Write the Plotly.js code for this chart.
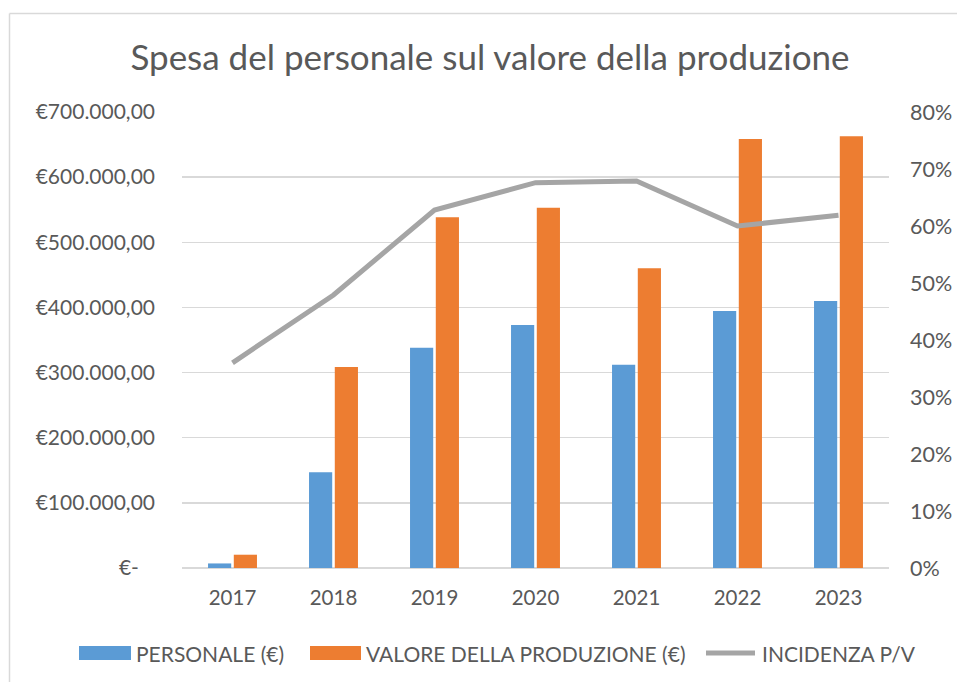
<!DOCTYPE html>
<html>
<head>
<meta charset="utf-8">
<script src="https://cdn.plot.ly/plotly-3.0.1.min.js"></script>
<style>html,body{margin:0;padding:0;background:#fff;}#chart{width:957px;height:682px;}</style>
</head>
<body>
<div id="chart"></div>
<script>
const years = ["2017", "2018", "2019", "2020", "2021", "2022", "2023"];
const personale = [7000, 147000, 338000, 373000, 312000, 394500, 410000];
const valoreProduzione = [20400, 308700, 538300, 553000, 460000, 658400, 662600];
const incidenza = [0.360, 0.479, 0.628, 0.676, 0.679, 0.600, 0.619];
const leftTickVals = [0, 100000, 200000, 300000, 400000, 500000, 600000, 700000];
const leftTickText = ["€-\u00a0\u00a0\u00a0", "€100.000,00", "€200.000,00", "€300.000,00", "€400.000,00", "€500.000,00", "€600.000,00", "€700.000,00"];
const rightTickVals = [0, 0.1, 0.2, 0.3, 0.4, 0.5, 0.6, 0.7, 0.8];
const rightTickText = ["0%", "10%", "20%", "30%", "40%", "50%", "60%", "70%", "80%"];
const seriesNames = ["PERSONALE (€)", "VALORE DELLA PRODUZIONE (€)", "INCIDENZA P/V"];
const seriesColors = ["#5b9bd5", "#ed7d31", "#a5a5a5"];

const FONT = "Lato, 'Open Sans', sans-serif";
const TXT = "#595959";

// plot-area geometry (pixels)
const W = 957, H = 682, ML = 182, MR = 68, MT = 112, MB = 114;
const PW = W - ML - MR, PH = H - MT - MB;
const px = v => (v - ML) / PW;
const py = v => (H - MB - v) / PH;

const traces = [
  {type: "bar", name: seriesNames[0], x: years, y: personale, marker: {color: seriesColors[0]}, yaxis: "y"},
  {type: "bar", name: seriesNames[1], x: years, y: valoreProduzione, marker: {color: seriesColors[1]}, yaxis: "y"},
  {type: "scatter", mode: "lines", name: seriesNames[2], x: years, y: incidenza, yaxis: "y2",
   line: {color: seriesColors[2], width: 5}}
];

// custom legend (swatches + labels) placed under the plot like the reference
const legendY = 653;
const legendItems = [
  {sx0: 79, sx1: 131, tx: 134, kind: "rect"},
  {sx0: 310, sx1: 361, tx: 364, kind: "rect"},
  {sx0: 704, sx1: 757, tx: 760, kind: "line"}
];
const shapes = [
  {type: "line", xref: "paper", yref: "paper", x0: px(9.5), x1: 1.2, y0: py(13.5), y1: py(13.5),
   line: {color: "#d9d9d9", width: 1.5}},
  {type: "line", xref: "paper", yref: "paper", x0: px(9.5), x1: px(9.5), y0: py(13.5), y1: -0.4,
   line: {color: "#d9d9d9", width: 1.5}}
];
const annotations = [];
legendItems.forEach((it, i) => {
  if (it.kind === "rect") {
    shapes.push({type: "rect", xref: "paper", yref: "paper", x0: px(it.sx0), x1: px(it.sx1),
      y0: py(legendY - 7), y1: py(legendY + 7), fillcolor: seriesColors[i], line: {width: 0}});
  } else {
    shapes.push({type: "line", xref: "paper", yref: "paper", x0: px(it.sx0 + 2), x1: px(it.sx1 - 2),
      y0: py(legendY), y1: py(legendY), line: {color: seriesColors[i], width: 5}});
  }
  annotations.push({xref: "paper", yref: "paper", x: px(it.tx), y: py(legendY), xanchor: "left", yanchor: "middle",
    text: seriesNames[i], showarrow: false, font: {family: FONT, size: 21, color: TXT}});
});

const layout = {
  width: W, height: H,
  margin: {l: ML, r: MR, t: MT, b: MB},
  paper_bgcolor: "#ffffff", plot_bgcolor: "#ffffff",
  font: {family: FONT, color: TXT, size: 21},
  showlegend: false,
  title: {text: "Spesa del personale sul valore della produzione", font: {family: FONT, size: 35, color: TXT},
          x: 490/957, xanchor: "center", xref: "container", y: 1 - 58/682, yanchor: "middle", yref: "container"},
  barmode: "group", bargap: 0.49, bargroupgap: 0.1,
  xaxis: {type: "category", showgrid: false, zeroline: false, showline: false, ticks: "",
          ticklabelstandoff: 15, tickfont: {size: 20.5, color: TXT, family: FONT}},
  yaxis: {range: [0, 700000], tickvals: leftTickVals, ticktext: leftTickText, showgrid: true,
          gridcolor: "#d9d9d9", gridwidth: 1.5, zeroline: true, zerolinecolor: "#d9d9d9", zerolinewidth: 2.5,
          showline: false, ticks: "", ticklabelstandoff: 26, tickfont: {size: 21, color: TXT, family: FONT}},
  yaxis2: {range: [0, 0.8], overlaying: "y", side: "right", tickvals: rightTickVals, ticktext: rightTickText,
           showgrid: false, zeroline: false, showline: false, ticks: "", ticklabelstandoff: 20,
           tickfont: {size: 21.5, color: TXT, family: FONT}},
  shapes: shapes,
  annotations: annotations
};

Plotly.newPlot("chart", traces, layout, {displayModeBar: false, staticPlot: true});
</script>
</body>
</html>
